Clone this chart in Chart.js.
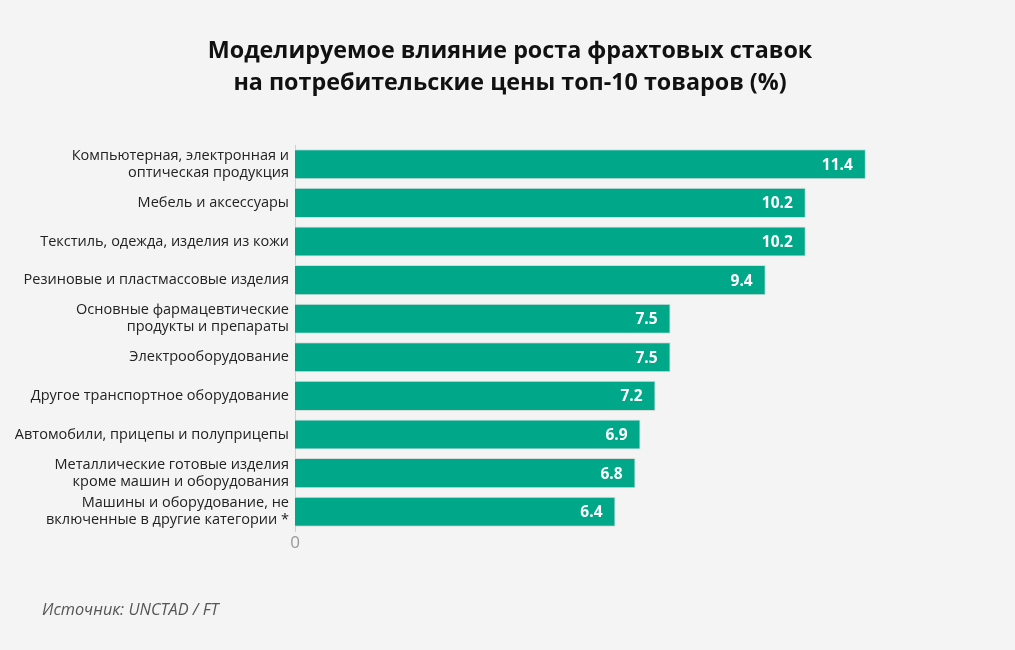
<!DOCTYPE html>
<html><head><meta charset="utf-8">
<script src="https://cdn.jsdelivr.net/npm/chart.js@4/dist/chart.umd.min.js"></script>
<style>html,body{margin:0;padding:0;background:#f4f4f4;}#wrap{position:relative;width:1015px;height:650px;}</style>
</head><body><div id="wrap"><canvas id="c" width="1015" height="650"></canvas></div>
<script>
const titleLines = ["Моделируемое влияние роста фрахтовых ставок", "на потребительские цены топ-10 товаров (%)"];
const categories = [
  ["Компьютерная, электронная и", "оптическая продукция"],
  "Мебель и аксессуары",
  "Текстиль, одежда, изделия из кожи",
  "Резиновые и пластмассовые изделия",
  ["Основные фармацевтические", "продукты и препараты"],
  "Электрооборудование",
  "Другое транспортное оборудование",
  "Автомобили, прицепы и полуприцепы",
  ["Металлические готовые изделия", "кроме машин и оборудования"],
  ["Машины и оборудование, не", "включенные в другие категории *"]
];
const values = [11.4, 10.2, 10.2, 9.4, 7.5, 7.5, 7.2, 6.9, 6.8, 6.4];
const xTickLabels = ["0"];
const sourceText = "Источник: UNCTAD / FT";

const FONT = "'Open Sans', 'Noto Sans', sans-serif";

const decor = {
  id: 'decor',
  beforeDraw(chart) {
    const ctx = chart.ctx;
    ctx.save();
    ctx.fillStyle = '#f4f4f4';
    ctx.fillRect(0, 0, chart.width, chart.height);
    ctx.restore();
  },
  afterDraw(chart) {
    const ctx = chart.ctx;
    ctx.save();
    ctx.fillStyle = '#111';
    ctx.font = "bold 23.3px " + FONT;
    ctx.textAlign = 'center';
    ctx.textBaseline = 'middle';
    ctx.fillText(titleLines[0], 510, 51);
    ctx.fillText(titleLines[1], 510, 83);
    ctx.font = "italic 16.3px " + FONT;
    ctx.fillStyle = '#555';
    ctx.textAlign = 'left';
    ctx.fillText(sourceText, 42, 610);
    const meta = chart.getDatasetMeta(0);
    ctx.font = "bold 15.5px " + FONT;
    ctx.fillStyle = '#ffffff';
    ctx.textAlign = 'right';
    meta.data.forEach((bar, i) => {
      ctx.fillText(values[i].toFixed(1), bar.x - 13, bar.y + 1);
    });
    ctx.restore();
  }
};

new Chart(document.getElementById('c'), {
  type: 'bar',
  data: {
    labels: categories,
    datasets: [{
      data: values,
      backgroundColor: '#00a88a',
      borderColor: '#d6dcda',
      borderWidth: 1,
      barPercentage: 0.78,
      categoryPercentage: 1.0
    }]
  },
  options: {
    indexAxis: 'y',
    responsive: false,
    animation: false,
    layout: { padding: { top: 145, bottom: 99, left: 0, right: 69 } },
    plugins: { legend: { display: false }, tooltip: { enabled: false } },
    scales: {
      x: {
        min: 0, max: 13,
        grid: { display: false, drawTicks: false },
        border: { display: false },
        afterFit(scale) { scale.height = 20; },
        ticks: {
          stepSize: 13, autoSkip: false, maxRotation: 0,
          color: '#999', font: { family: FONT, size: 17 }, padding: 2,
          callback: (v) => (v === 0 ? xTickLabels[0] : '')
        }
      },
      y: {
        grid: { display: false, drawTicks: false },
        border: { display: true, color: '#cfcfcf', width: 1 },
        afterFit(scale) { scale.width = 295; },
        ticks: { color: '#222', font: { family: FONT, size: 14.5, lineHeight: 1.15 }, padding: 6 }
      }
    }
  },
  plugins: [decor]
});
</script></body></html>
